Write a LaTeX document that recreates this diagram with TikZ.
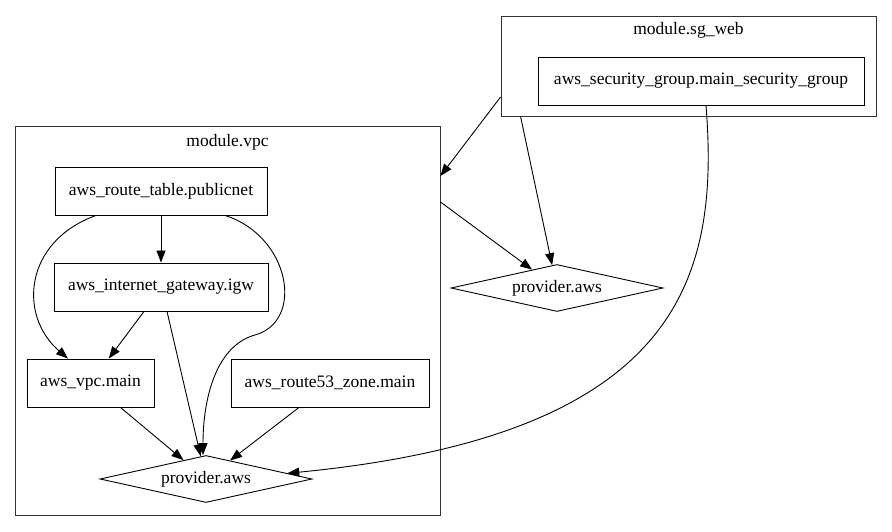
\documentclass[tikz,border=0pt]{standalone}
\usepackage{fontspec}
\setmainfont{Liberation Serif}
\newfontfamily\dotfont{Liberation Serif}
\usetikzlibrary{shapes.geometric,arrows.meta}
\begin{document}
\begin{tikzpicture}[x=1pt, y=1pt, font=\dotfont\fontsize{17.5}{21}\selectfont,
    dep/.style={draw=black, line width=0.9pt, -{Triangle[length=12pt,width=9pt]}}]
  \useasboundingbox (0,0) rectangle (892,531);
  % modules
  \begin{scope}[every node/.style={draw=black!80, line width=0.9pt, inner sep=0pt}]
    \node[minimum width=375, minimum height=100] (sgweb) at (688.5,465) {};
    \node[minimum width=425, minimum height=389] (vpc) at (227.5,210.5) {};
  \end{scope}
  \node (sgweblabel) at (688.5,501) {module.sg\_web};
  \node (vpclabel) at (227.5,389) {module.vpc};
  % resources
  \begin{scope}[every node/.style={draw, line width=0.9pt, minimum height=48, inner sep=0pt}]
    \node[minimum width=326] (sg) at (701,450) {aws\_security\_group.main\_security\_group};
    \node[minimum width=212] (rt) at (161,340) {aws\_route\_table.publicnet};
    \node[minimum width=214] (igw) at (161,244) {aws\_internet\_gateway.igw};
    \node[minimum width=127] (vpcmain) at (90.5,148) {aws\_vpc.main};
    \node[minimum width=198] (r53) at (330,148) {aws\_route53\_zone.main};
  \end{scope}
  \begin{scope}[every node/.style={draw, line width=0.9pt, diamond, aspect=4.5,
      minimum width=212, minimum height=47, inner sep=0pt}]
    \node (pvpc) at (206,52) {provider.aws};
    \node (paws) at (557,243) {provider.aws};
  \end{scope}
  % dependencies
  \begin{scope}[every edge/.style={dep}]
    \path (rt) edge (igw);
    \path ([xshift=-17pt]igw.south) edge (vpcmain);
    \path ([xshift=6pt]igw.south) edge (pvpc);
    \path ([xshift=30pt]vpcmain.south) edge (pvpc);
    \path ([xshift=-31pt]r53.south) edge (pvpc);
    \path ([xshift=20pt]sgweb.south west) edge (paws);
    \path ([yshift=118.5pt]vpc.east) edge (paws);
    \path ([yshift=-31pt]sgweb.west) edge ([yshift=144.5pt]vpc.east);
  \end{scope}
  \draw[dep] ([xshift=-65pt]rt.south) .. controls +(-72,-26) and +(-50,43) .. ([xshift=-22.5pt]vpcmain.north);
  \draw[dep] ([xshift=64pt]rt.south) .. controls (290,295) and (305,210) .. (255,196)
    .. controls (215,185) and (203,130) .. ([xshift=-3pt]pvpc.north);
  \draw[dep] ([xshift=5pt]sg.south) .. controls +(14,-176) and +(390,38) .. (pvpc.4);
\end{tikzpicture}
\end{document}
